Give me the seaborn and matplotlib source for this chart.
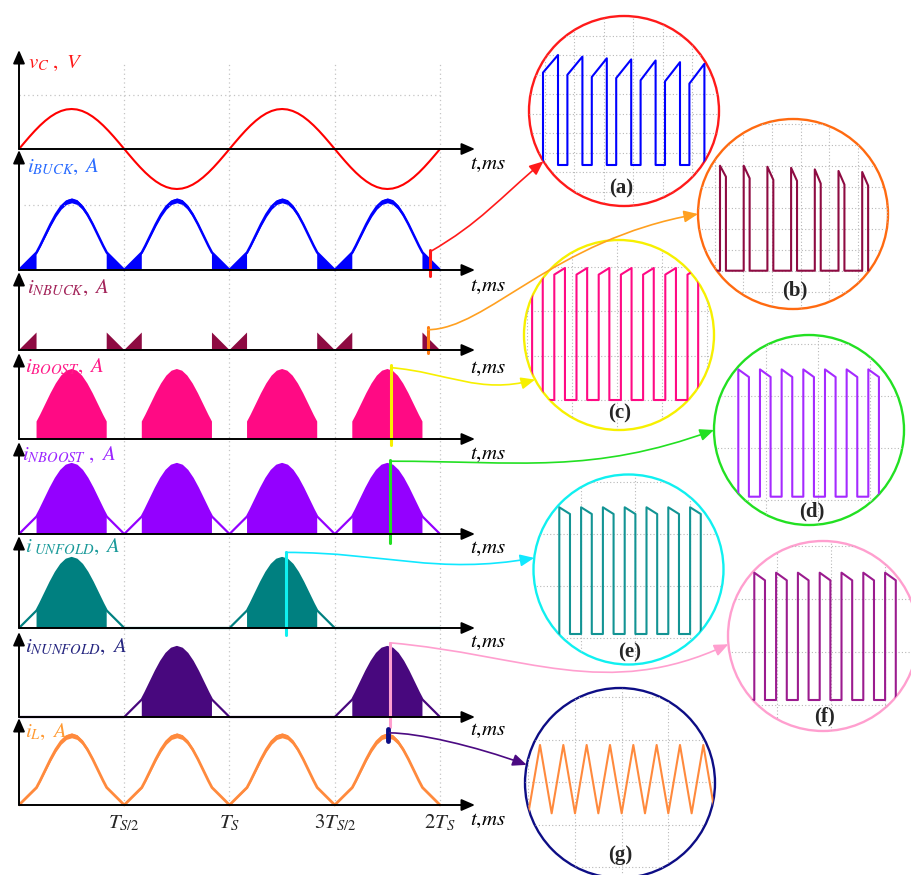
import numpy as np
import matplotlib
matplotlib.use("Agg")
import matplotlib.pyplot as plt
import seaborn as sns
from matplotlib.patches import Circle, FancyArrowPatch
from matplotlib.path import Path

# ---- values ----
# one half cycle (Ts/2), sample positions as fraction of the half cycle
half_pos = [0.0, 0.05, 0.10, 0.1667, 0.20, 0.25, 0.30, 0.35, 0.40, 0.45, 0.50,
            0.55, 0.60, 0.65, 0.70, 0.75, 0.80, 0.8333, 0.90, 0.95, 1.0]
# rectified current envelope (pu of peak)
hump_val = [0.0, 0.075, 0.15, 0.25, 0.345, 0.50, 0.655, 0.794, 0.905, 0.976, 1.0,
            0.976, 0.905, 0.794, 0.655, 0.50, 0.345, 0.25, 0.15, 0.075, 0.0]
# capacitor voltage over one half cycle (pu)
vc_pos = [0.0, 0.05, 0.10, 0.15, 0.20, 0.25, 0.30, 0.35, 0.40, 0.45, 0.50,
          0.55, 0.60, 0.65, 0.70, 0.75, 0.80, 0.85, 0.90, 0.95, 1.0]
vc_val = [0.0, 0.156, 0.309, 0.454, 0.588, 0.707, 0.809, 0.891, 0.951, 0.988, 1.0,
          0.988, 0.951, 0.891, 0.809, 0.707, 0.588, 0.454, 0.309, 0.156, 0.0]
vc_sign = [1, -1, 1, -1]
unfold_on = [1, 0, 1, 0]
nunfold_on = [0, 1, 0, 1]

tick_pos = [1, 2, 3, 4]
tick_labels = [r"$T_{S/2}$", r"$T_S$", r"$3T_{S/2}$", r"$2T_S$"]
panel_labels = [r"$v_C\ ,\ V$", r"$i_{BUCK},\ A$", r"$i_{NBUCK},\ A$", r"$i_{BOOST},\ A$",
                r"$i_{NBOOST}\ ,\ A$", r"$i_{\ UNFOLD},\ A$", r"$i_{NUNFOLD},\ A$", r"$i_{L},\ A$"]

# zoomed switching waveforms: level at switch-on and at switch-off of each pulse (pu)
a_on = [0.84, 0.82, 0.80, 0.79, 0.77, 0.76, 0.74]
a_off = [1.0, 0.985, 0.97, 0.96, 0.95, 0.935, 0.92]
b_on = [1.0, 1.0, 0.99, 0.98, 0.965, 0.95, 0.94]
b_off = [0.895, 0.88, 0.865, 0.855, 0.83, 0.82, 0.81]
c_on = [0.95, 0.95, 0.95, 0.95, 0.95, 0.95, 0.95, 0.95]
c_off = [1.0, 1.0, 1.0, 1.0, 1.0, 1.0, 1.0, 1.0]
d_on = [1.0, 1.0, 1.0, 1.0, 1.0, 1.0, 1.0]
d_off = [0.94, 0.94, 0.94, 0.94, 0.94, 0.94, 0.94]
e_on = [1.0, 1.0, 1.0, 1.0, 1.0, 1.0, 1.0]
e_off = [0.947, 0.947, 0.947, 0.947, 0.947, 0.947, 0.947]
f_on = [1.0, 1.0, 1.0, 1.0, 1.0, 1.0, 1.0]
f_off = [0.94, 0.94, 0.94, 0.94, 0.94, 0.94, 0.94]
g_peak = [1.0, 1.0, 1.0, 1.0, 1.0, 1.0, 1.0, 1.0]
g_valley = [0.0, 0.0, 0.0, 0.0, 0.0, 0.0, 0.0, 0.0, 0.0]

# ---- layout ----
W, H = 912, 875
X0, XA = 19, 475
PXU = (440 - 19) / 4.0
R = 95

sns.set_theme(style="white")
plt.rcParams["font.family"] = ["Liberation Serif", "DejaVu Serif"]
plt.rcParams["mathtext.fontset"] = "stix"

fig = plt.figure(figsize=(W / 100, H / 100), dpi=100)
fig.patch.set_facecolor("white")


def fx(x):
    return x / W


def fy(y):
    return 1 - y / H


AX_ARROW = dict(arrowstyle="-|>,head_length=0.8,head_width=0.35", color="black",
                lw=1.4, shrinkA=0, shrinkB=0, mutation_scale=10)

# background dotted grid for the left stack
gax = fig.add_axes([fx(X0), fy(805), (XA - X0) / W, (805 - 63) / H])
gax.set_xlim(0, (XA - X0) / PXU)
gax.set_ylim(0, 1)
gax.set_axis_off()
gax.vlines(tick_pos, 0, 1, colors="#c4c4c4", linestyles=(0, (1, 2.5)), lw=0.9)


def make_panel(base, tip, scale, below):
    ax = fig.add_axes([fx(X0), fy(base + below), (XA - X0) / W, (base + below - tip) / H])
    ax.set_xlim(0, (XA - X0) / PXU)
    ax.set_ylim(-below / scale, (base - tip) / scale)
    ax.set_axis_off()
    ax.patch.set_alpha(0)
    ax.annotate("", xy=((XA - X0) / PXU, 0), xytext=(0, 0), arrowprops=AX_ARROW,
                annotation_clip=False)
    ax.annotate("", xy=(0, (base - tip) / scale), xytext=(0, 0), arrowprops=AX_ARROW,
                annotation_clip=False)
    return ax


def tile(vals, pos, on=(1, 1, 1, 1)):
    t, y = [], []
    for k, o in enumerate(on):
        t += [k + p for p in pos]
        y += [v * o for v in vals]
    return np.array(t), np.array(y)


def line(ax, t, y, color, lw=1.6):
    sns.lineplot(x=t, y=y, ax=ax, color=color, lw=lw, estimator=None, sort=False)


t_h, env = tile(hump_val, half_pos)
mid = np.array([0.16 < p < 0.84 for p in half_pos] * 4)
ramp = np.array([(p < 0.17 or p > 0.83) for p in half_pos] * 4)
on_u = np.repeat(unfold_on, len(half_pos)).astype(bool)
on_n = np.repeat(nunfold_on, len(half_pos)).astype(bool)

# vC
ax_vc = make_panel(149, 50, 40, 42)
ax_vc.hlines(1.35, 0, 4, colors="#c4c4c4", linestyles=(0, (1, 2.5)), lw=0.9)
t_v, y_v = tile(vc_val, vc_pos)
y_v = y_v * np.repeat(vc_sign, len(vc_pos))
line(ax_vc, t_v, y_v, "#ff0000", 1.5)

# iBUCK
ax_bk = make_panel(270, 150, 70, 20)
ax_bk.hlines(0.93, 0.05, 4.06, colors="#c4c4c4", linestyles=(0, (1, 2.5)), lw=0.9)
ax_bk.fill_between(t_h, env * 0.96, env * 1.03, color="#0000ff", lw=0)
ax_bk.fill_between(t_h, 0, env, where=ramp, color="#0000ff", lw=0)
line(ax_bk, t_h, env, "#0000ff", 1.8)

# iNBUCK
ax_nb = make_panel(350, 272, 70, 20)
ax_nb.fill_between(t_h, 0, env, where=ramp, color="#8e0b42", lw=0)
line(ax_nb, t_h, env * 0, "#8e0b42", 1.2)

# iBOOST
ax_bo = make_panel(439, 353, 70, 20)
ax_bo.fill_between(t_h, 0, env, where=mid, color="#ff0a84", lw=0)

# iNBOOST
ax_nbo = make_panel(534, 442, 70, 20)
ax_nbo.fill_between(t_h, 0, env, where=mid, color="#9400ff", lw=0)
line(ax_nbo, t_h, env, "#9400ff", 1.6)

# iUNFOLD
ax_u = make_panel(628, 536, 70, 20)
ax_u.fill_between(t_h, 0, env, where=mid & on_u, color="#008080", lw=0)
line(ax_u, t_h, env * on_u, "#008080", 1.6)

# iNUNFOLD
ax_nu = make_panel(717, 632, 70, 20)
ax_nu.fill_between(t_h, 0, env, where=mid & on_n, color="#48087e", lw=0)
line(ax_nu, t_h, env * on_n, "#48087e", 1.6)

# iL
ax_l = make_panel(805, 718, 70, 20)
ax_l.fill_between(t_h, env * 0.96, env * 1.03, color="#ff8a3d", lw=0)
line(ax_l, t_h, env, "#ff8a3d", 2.0)
for tp, tl in zip(tick_pos, tick_labels):
    ax_l.text(tp, -18 / 70, tl, ha="center", va="center", fontsize=15)

# text labels
label_xy = [(28, 63), (27, 167), (27, 288), (25, 367), (22, 455), (25, 547), (25, 647), (25, 732)]
label_col = ["#ff1a1a", "#2a6cff", "#a3245a", "#ff1a88", "#9c27ff", "#1a9a9a", "#262680", "#ff9a33"]
for (x, y), s, c in zip(label_xy, panel_labels, label_col):
    fig.text(fx(x), fy(y), s, color=c, fontsize=15, ha="left", va="center")
for y in [165, 286, 369, 455, 549, 642, 731, 820]:
    fig.text(fx(470), fy(y), r"$t{,}ms$", color="black", fontsize=15, ha="left", va="center")


# ---- zoom circles ----
def pulse_wave(on, off, duty, first=0):
    t, y = [first - 1.0], [0.0]
    k = first
    for i, (s, e) in enumerate(zip(on, off)):
        k = first + i
        t += [k, k, k + duty, k + duty]
        y += [0, s, e, 0]
    t.append(k + 2.0)
    y.append(0.0)
    return np.array(t), np.array(y)


def tri_wave(peaks, valleys):
    t, y = [], []
    for i, v in enumerate(valleys):
        t.append(i - 0.5)
        y.append(v)
        if i < len(peaks):
            t.append(i)
            y.append(peaks[i])
    return np.array(t), np.array(y)


def zoom_circle(c, org, scl, grid, edge, wave, color, label_xy, label):
    cx, cy = c
    x0, y0 = org
    sx, sy = scl
    ax = fig.add_axes([fx(cx - R), fy(cy + R), 2 * R / W, 2 * R / H])
    ax.set_xlim((cx - R - x0) / sx, (cx + R - x0) / sx)
    ax.set_ylim((y0 - cy - R) / sy, (y0 - cy + R) / sy)
    ax.set_axis_off()
    ax.patch.set_alpha(0)
    clip = Circle((0.5, 0.5), 0.5, transform=ax.transAxes)
    gx0, gdx, gy0, gdy = grid
    xs = [(p - x0) / sx for p in np.arange(gx0 - 8 * gdx, cx + R, gdx) if p > cx - R]
    ys = [(y0 - p) / sy for p in np.arange(gy0 - 8 * gdy, cy + R, gdy) if p > cy - R]
    lc1 = ax.vlines(xs, *ax.get_ylim(), colors="#b8b8b8", linestyles=(0, (1, 2)), lw=0.8)
    lc2 = ax.hlines(ys, *ax.get_xlim(), colors="#b8b8b8", linestyles=(0, (1, 2)), lw=0.8)
    lc1.set_clip_path(clip)
    lc2.set_clip_path(clip)
    line(ax, wave[0], wave[1], color, 1.5)
    for ln in ax.lines:
        ln.set_clip_path(clip)
    ax.add_patch(Circle((0.5, 0.5), 0.5, transform=ax.transAxes, fill=False,
                        ec=edge, lw=1.7, clip_on=False))
    fig.text(fx(label_xy[0]), fy(label_xy[1]), label, ha="center", va="center",
             fontsize=15, fontweight="bold", family="Liberation Serif")


circles = {
    "a": (624, 111), "b": (793, 214), "c": (619, 335), "d": (809, 430),
    "e": (628.5, 569.5), "f": (823, 636), "g": (620, 783),
}
zoom_circle(circles["a"], (543, 165), (24.4, 110), (574, 29.5, 55, 19.5), "#ff1a1a",
            pulse_wave(a_on, a_off, 0.615), "#0000ff", (621, 188), "(a)")
zoom_circle(circles["b"], (720, 270.7), (23.7, 105), (743.3, 28.7, 166, 21), "#ff6a10",
            pulse_wave(b_on, b_off, 0.25), "#8e0b42", (795, 290), "(b)")
zoom_circle(circles["c"], (554.3, 400), (22.2, 132), (571.7, 45, 311, 44.5), "#f7f000",
            pulse_wave(c_on, c_off, 0.48, first=-1), "#ff0a84", (620, 413), "(c)")
zoom_circle(circles["d"], (738.3, 496.7), (21.67, 127.3), (766, 52, 396, 52), "#22e022",
            pulse_wave(d_on, d_off, 0.49), "#a52aff", (812, 511), "(d)")
zoom_circle(circles["e"], (559.3, 634), (21.8, 126.7), (581, 54.5, 534, 52), "#10f0f0",
            pulse_wave(e_on, e_off, 0.49), "#139494", (630, 652), "(e)")
zoom_circle(circles["f"], (754.3, 700), (21.8, 127.3), (777, 54, 599, 53), "#ff9fcf",
            pulse_wave(f_on, f_off, 0.49), "#9b1b8e", (825, 716), "(f)")
zoom_circle(circles["g"], (540, 813.3), (23.33, 68.3), (575, 46.7, 740, 42.5), "#0d0d85",
            tri_wave(g_peak, g_valley), "#ff8a3d", (620, 855), "(g)")


# ---- markers and connectors ----
def connector(ax, t, v, key, theta, a0, a1, color, l0=0.4, l1=0.4):
    p0 = np.array(ax.transData.transform((t, v)))
    cx, cy = circles[key]
    th = np.radians(theta)
    p3 = np.array([cx + R * np.cos(th), (H - cy) + R * np.sin(th)])
    d = np.hypot(*(p3 - p0))
    p1 = p0 + l0 * d * np.array([np.cos(np.radians(a0)), np.sin(np.radians(a0))])
    p2 = p3 - l1 * d * np.array([np.cos(np.radians(a1)), np.sin(np.radians(a1))])
    verts = fig.transFigure.inverted().transform(np.array([p0, p1, p2, p3]))
    path = Path(verts, [Path.MOVETO, Path.CURVE4, Path.CURVE4, Path.CURVE4])
    fig.add_artist(FancyArrowPatch(path=path, arrowstyle="-|>,head_length=0.7,head_width=0.3",
                                   mutation_scale=12, color=color, lw=1.2,
                                   transform=fig.transFigure))


ax_bk.plot([3.905, 3.905], [-0.08, 0.29], color="#ff1a1a", lw=2.2)
ax_nb.plot([3.883, 3.883], [-0.04, 0.33], color="#ff7a10", lw=2.2)
ax_bo.plot([3.531, 3.531], [-0.09, 1.06], color="#f7f000", lw=2.2)
ax_nbo.plot([3.525, 3.525], [-0.13, 1.06], color="#22e022", lw=2.2)
ax_u.plot([2.534, 2.534], [-0.1, 1.09], color="#10f0f0", lw=2.2)
ax_nu.plot([3.525, 3.525], [-0.14, 1.06], color="#ff9fcf", lw=2.2)
ax_l.plot([3.503, 3.503], [0.92, 1.09], color="#0d0d85", lw=3.5, solid_capstyle="round")

connector(ax_bk, 3.905, 0.26, "a", 212, 30, 40, "#ff1a1a")
connector(ax_nb, 3.883, 0.29, "b", 180, 0, 10, "#ffa020", 0.2, 0.5)
connector(ax_bo, 3.531, 1.02, "c", 208, -5, 15, "#f7f000")
connector(ax_nbo, 3.525, 1.04, "d", 180, 0, 20, "#22e022")
connector(ax_u, 2.534, 1.08, "e", 173, 0, 10, "#10e8ff")
connector(ax_nu, 3.525, 1.06, "f", 185, -5, 25, "#ff9fcf")
connector(ax_l, 3.52, 1.03, "g", 169, 0, -20, "#4b0a82", 0.2, 0.4)

fig.savefig("out.png", dpi=100)
